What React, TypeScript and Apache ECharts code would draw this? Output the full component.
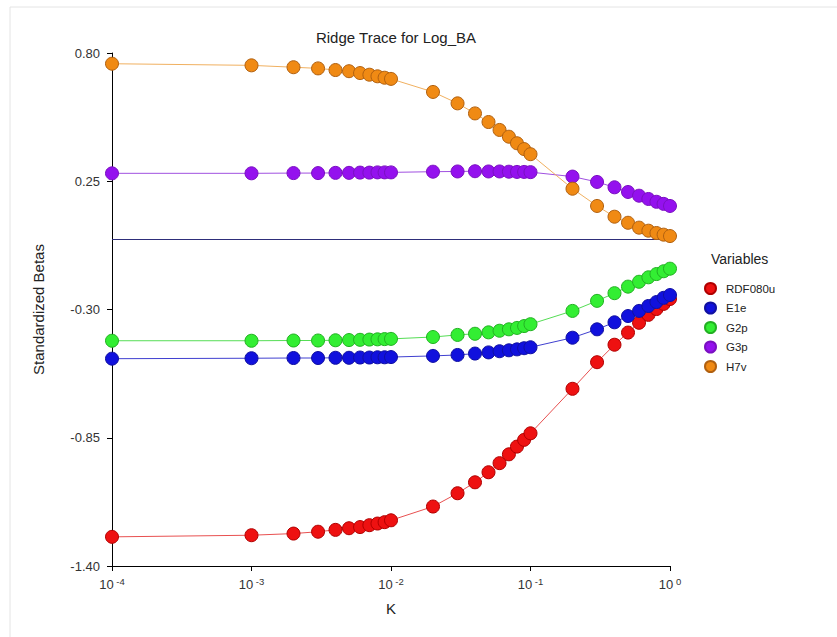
import React, { useEffect, useRef } from "react";
import * as echarts from "echarts";

const kValues = [
  0.0001, 0.001, 0.002, 0.003, 0.004, 0.005, 0.006, 0.007, 0.008, 0.009, 0.01,
  0.02, 0.03, 0.04, 0.05, 0.06, 0.07, 0.08, 0.09, 0.1,
  0.2, 0.3, 0.4, 0.5, 0.6, 0.7, 0.8, 0.9, 1.0,
];

const rdf080u = [
  -1.275, -1.268, -1.261, -1.253, -1.245, -1.238, -1.233, -1.225, -1.218, -1.212, -1.204,
  -1.145, -1.088, -1.041, -0.998, -0.959, -0.921, -0.888, -0.859, -0.831,
  -0.64, -0.526, -0.451, -0.399, -0.357, -0.323, -0.298, -0.276, -0.255,
];
const e1e = [
  -0.511, -0.509, -0.508, -0.508, -0.507, -0.507, -0.506, -0.506, -0.505, -0.505, -0.504,
  -0.499, -0.495, -0.489, -0.484, -0.479, -0.475, -0.471, -0.466, -0.462,
  -0.421, -0.385, -0.355, -0.328, -0.306, -0.285, -0.268, -0.25, -0.238,
];
const g2p = [
  -0.434, -0.434, -0.433, -0.433, -0.432, -0.431, -0.43, -0.429, -0.428, -0.427, -0.426,
  -0.418, -0.409, -0.404, -0.398, -0.391, -0.385, -0.379, -0.371, -0.363,
  -0.306, -0.263, -0.23, -0.202, -0.181, -0.162, -0.148, -0.136, -0.125,
];
const g3p = [
  0.284, 0.284, 0.285, 0.285, 0.286, 0.286, 0.287, 0.287, 0.288, 0.288, 0.288,
  0.291, 0.292, 0.293, 0.292, 0.292, 0.291, 0.29, 0.29, 0.289,
  0.27, 0.247, 0.224, 0.204, 0.188, 0.174, 0.162, 0.153, 0.144,
];
const h7v = [
  0.754, 0.747, 0.739, 0.734, 0.727, 0.722, 0.714, 0.707, 0.7, 0.694, 0.689,
  0.633, 0.584, 0.541, 0.504, 0.47, 0.441, 0.413, 0.388, 0.366,
  0.218, 0.144, 0.098, 0.072, 0.051, 0.038, 0.028, 0.021, 0.015,
];

const seriesNames = ["RDF080u", "E1e", "G2p", "G3p", "H7v"];
const seriesValues = [rdf080u, e1e, g2p, g3p, h7v];
const fillColors = ["#EE1111", "#1111DD", "#33EE33", "#9411EE", "#F08A14"];
const borderColors = ["#B00000", "#1010A0", "#22B022", "#7A10C0", "#B06010"];
const lineColors = ["#E85050", "#4040D0", "#55DD55", "#A050E0", "#F0B060"];

// y axis runs from -1.40 to 0.80 in steps of 0.55; plotted with an offset so ticks start at min
const Y_MIN = -1.4;
const Y_MAX = 0.8;
const Y_STEP = 0.55;

const FONT = "Liberation Sans, Arial, sans-serif";

export default function App() {
  const ref = useRef<HTMLDivElement>(null);

  useEffect(() => {
    document.body.style.margin = "0";
    if (!ref.current) return;
    const chart = echarts.init(ref.current, undefined, { renderer: "svg" });

    const series: any[] = seriesNames.map((name, i) => ({
      name,
      type: "line",
      data: kValues.map((k, j) => [k, seriesValues[i][j] - Y_MIN]),
      symbol: "circle",
      symbolSize: 13,
      lineStyle: { color: lineColors[i], width: 1 },
      itemStyle: { color: fillColors[i], borderColor: borderColors[i], borderWidth: 1 },
      z: 3 + i,
    }));

    series.push({
      name: "zero",
      type: "line",
      data: [],
      silent: true,
      markLine: {
        silent: true,
        symbol: ["none", "none"],
        label: { show: false },
        lineStyle: { color: "#2E2E7A", width: 1, type: "solid" },
        data: [{ yAxis: 0 - Y_MIN }],
      },
      z: 2,
    });

    chart.setOption({
      animation: false,
      backgroundColor: "#ffffff",
      textStyle: { fontFamily: FONT },
      title: {
        text: "Ridge Trace for Log_BA",
        left: 391,
        top: 25,
        textAlign: "center",
        textStyle: { fontFamily: FONT, fontSize: 15, fontWeight: "normal", color: "#222" },
      },
      graphic: [
        {
          type: "rect",
          shape: { x: 10, y: 7, width: 900, height: 700 },
          style: { fill: "none", stroke: "#E4E4E4", lineWidth: 1 },
          silent: true,
        },
        {
          type: "text",
          left: 711,
          top: 252,
          style: { text: "Variables", fontFamily: FONT, fontSize: 14, fill: "#222" },
        },
      ],
      legend: {
        data: seriesNames,
        orient: "vertical",
        left: 699,
        top: 277,
        icon: "circle",
        itemWidth: 11,
        itemHeight: 11,
        itemGap: 6.5,
        textStyle: { fontFamily: FONT, fontSize: 11.5, color: "#222", padding: [0, 0, 0, 5] },
        selectedMode: false,
      },
      grid: { left: 112, right: 167, top: 53, bottom: 71, containLabel: false },
      xAxis: {
        type: "log",
        logBase: 10,
        min: 0.0001,
        max: 1,
        name: "K",
        nameLocation: "middle",
        nameGap: 35,
        nameTextStyle: { fontFamily: FONT, fontSize: 15, color: "#222" },
        axisLine: { show: true, lineStyle: { color: "#000", width: 1 } },
        axisTick: { show: true, length: 5, inside: false, lineStyle: { color: "#000" } },
        minorTick: { show: false },
        splitLine: { show: false },
        axisLabel: {
          margin: 10,
          formatter: (v: number) => {
            const e = Math.round(Math.log10(v));
            return `{b|10}{s| ${e}}`;
          },
          rich: {
            b: { fontFamily: FONT, fontSize: 13, color: "#333" },
            s: { fontFamily: FONT, fontSize: 9.5, color: "#333", padding: [0, 0, 7, 0] },
          },
        },
      },
      yAxis: {
        type: "value",
        min: 0,
        max: Y_MAX - Y_MIN,
        interval: Y_STEP,
        name: "Standardized Betas",
        nameLocation: "middle",
        nameGap: 66,
        nameTextStyle: { fontFamily: FONT, fontSize: 15, color: "#222" },
        axisLine: { show: true, lineStyle: { color: "#000", width: 1 } },
        axisTick: { show: true, length: 5, inside: false, lineStyle: { color: "#000" } },
        splitLine: { show: false },
        axisLabel: {
          margin: 12,
          fontFamily: FONT,
          fontSize: 13,
          color: "#333",
          formatter: (v: number) => (v + Y_MIN).toFixed(2),
        },
      },
      series,
    });

    return () => chart.dispose();
  }, []);

  return <div ref={ref} style={{ width: 837, height: 637 }} />;
}
